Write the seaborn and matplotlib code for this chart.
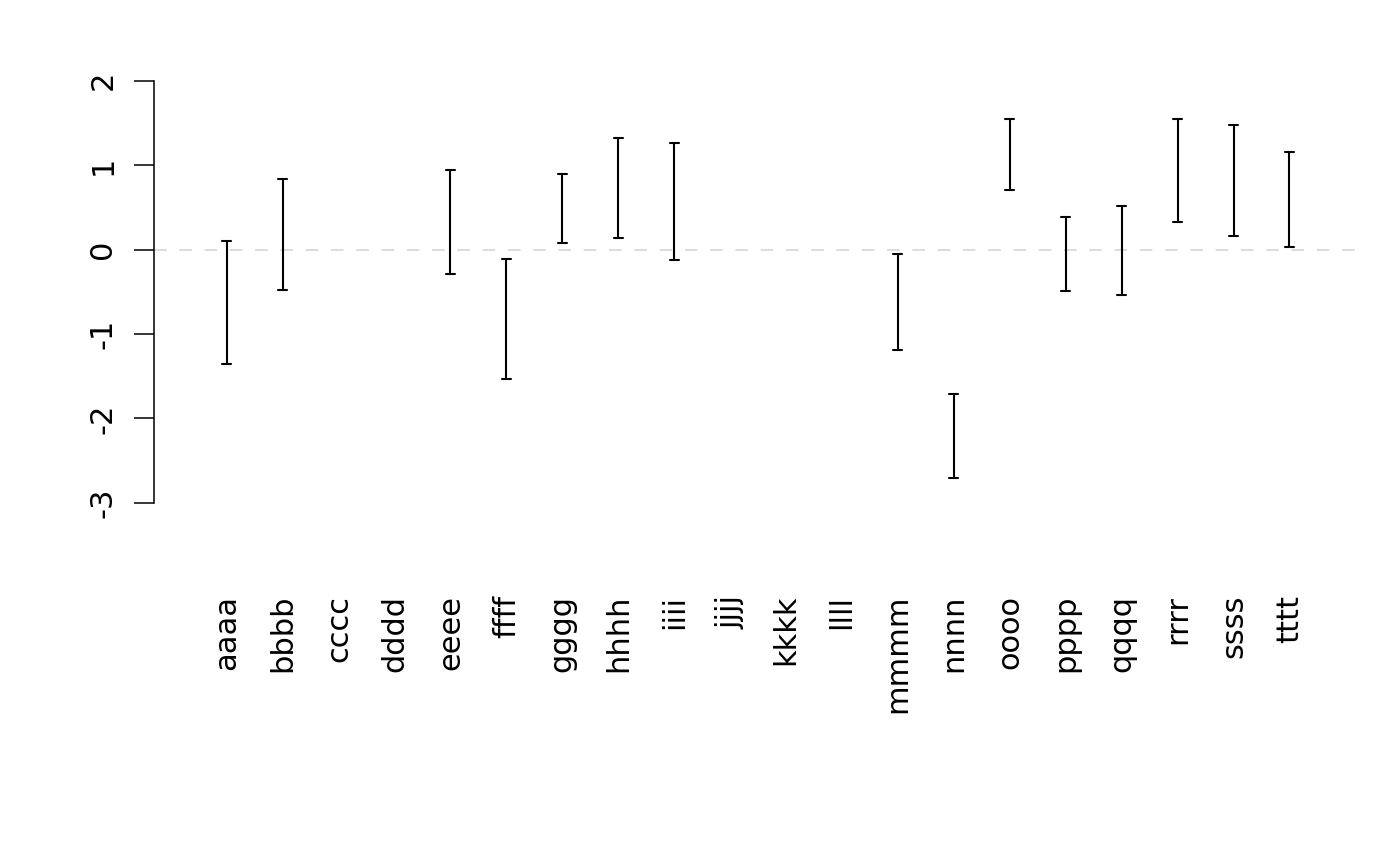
"""Interval plot: per-category lower/upper bounds drawn as capped error bars."""

import matplotlib
matplotlib.use("Agg")
import matplotlib.pyplot as plt
import numpy as np
import pandas as pd
import seaborn as sns

categories = ["aaaa", "bbbb", "cccc", "dddd", "eeee", "ffff", "gggg", "hhhh",
              "iiii", "jjjj", "kkkk", "llll", "mmmm", "nnnn", "oooo", "pppp",
              "qqqq", "rrrr", "ssss", "tttt"]
lower = [-1.355, -0.48, np.nan, np.nan, -0.285, -1.54, 0.075, 0.14,
         -0.12, np.nan, np.nan, np.nan, -1.19, -2.71, 0.70, -0.49,
         -0.54, 0.33, 0.155, 0.03]
upper = [0.095, 0.84, np.nan, np.nan, 0.94, -0.11, 0.89, 1.32,
         1.26, np.nan, np.nan, np.nan, -0.05, -1.71, 1.55, 0.39,
         0.51, 1.55, 1.48, 1.15]
y_ticks = [-3, -2, -1, 0, 1, 2]

sns.set_theme(style="white")
plt.rcParams["font.family"] = ["DejaVu Sans"]
plt.rcParams["text.color"] = "black"
plt.rcParams["xtick.color"] = "black"
plt.rcParams["ytick.color"] = "black"
plt.rcParams["xtick.labelcolor"] = "black"
plt.rcParams["ytick.labelcolor"] = "black"

df = pd.DataFrame({"cat": categories * 2, "val": lower + upper}).dropna()

fig = plt.figure(figsize=(14, 8.66), dpi=100)
ax = fig.add_axes([0.11, 0.40, 0.863, 0.5263])

ax.axhline(0, color="#d9d9d9", lw=1.3, ls=(0, (7, 7)), zorder=0)

sns.pointplot(
    data=df, x="cat", y="val", order=categories, ax=ax,
    errorbar=lambda v: (v.min(), v.max()),
    capsize=0.16, marker="", linestyle="none", color="black",
    err_kws={"linewidth": 1.5, "color": "black"},
)

ax.set_xlim(-1.3, 20.3)
ax.set_ylim(-3.2, 2.2)
ax.set_xlabel("")
ax.set_ylabel("")

ax.set_yticks(y_ticks)
ax.set_yticklabels([str(t) for t in y_ticks], rotation=90, va="center")
ax.tick_params(axis="y", length=14.4, width=1.1, pad=12, labelsize=22,
               color="black", labelcolor="black", left=True, direction="out")
ax.tick_params(axis="x", length=0, pad=54, labelsize=22, rotation=90,
               labelcolor="black")
for lbl in ax.get_xticklabels():
    lbl.set_va("top")

for side in ["top", "right", "bottom"]:
    ax.spines[side].set_visible(False)
ax.spines["left"].set_bounds(-3, 2)
ax.spines["left"].set_color("black")
ax.spines["left"].set_linewidth(1.1)
ax.grid(False)

fig.savefig("out.png", dpi=100)
